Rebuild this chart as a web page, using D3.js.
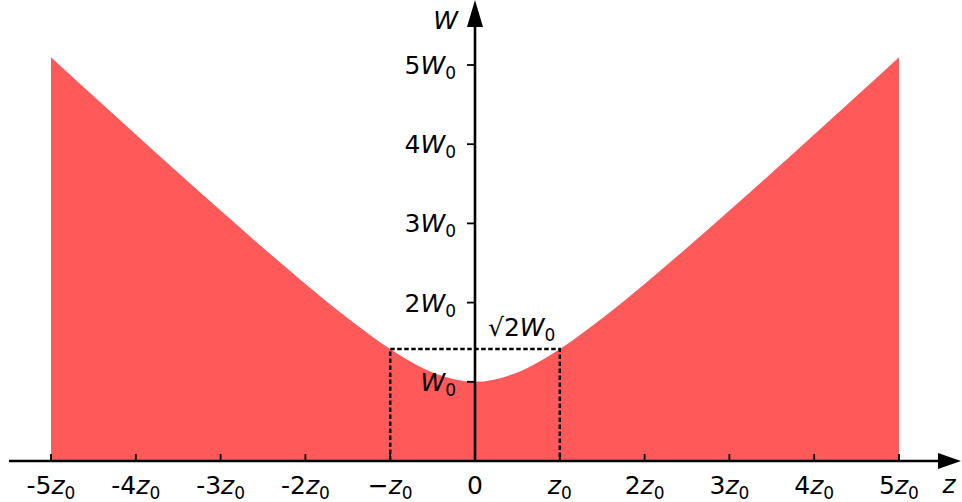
<!DOCTYPE html>
<html>
<head>
<meta charset="utf-8">
<script src="https://cdn.jsdelivr.net/npm/d3@7"></script>
<style>
  body { margin: 0; background: #fff; }
  text { font-family: "DejaVu Sans", sans-serif; fill: #000; }
</style>
</head>
<body>
<div class="chart"></div>
<script>
// beam width W(z), in units of W0, at z in units of z0
const zSamples = [-5, -4.5, -4, -3.5, -3, -2.5, -2, -1.5, -1, -0.5, 0, 0.5, 1, 1.5, 2, 2.5, 3, 3.5, 4, 4.5, 5];
const wSamples = [5.099, 4.610, 4.123, 3.640, 3.162, 2.693, 2.236, 1.803, 1.414, 1.118, 1, 1.118, 1.414, 1.803, 2.236, 2.693, 3.162, 3.640, 4.123, 4.610, 5.099];

const xTicks = [-5, -4, -3, -2, -1, 0, 1, 2, 3, 4, 5];
const xTickPre = ['-5', '-4', '-3', '-2', '\u2212', '0', '', '2', '3', '4', '5'];
const yTicks = [1, 2, 3, 4, 5];
const yTickPre = ['', '2', '3', '4', '5'];
const rayleighW = 1.414; // sqrt(2) W0 at z = +-z0

const width = 962, height = 502;
const fs = 25, subFs = 17, subDy = 5;

const svg = d3.select('.chart')
  .append('svg')
  .attr('width', width)
  .attr('height', height);

const x = d3.scaleLinear().domain([-5, 5]).range([51, 899]);
const y = d3.scaleLinear().domain([0, 5]).range([461, 65]);

const pts = zSamples.map((z, i) => [z, wSamples[i]]);

// filled beam envelope
const area = d3.area()
  .x(d => x(d[0]))
  .y0(y(0))
  .y1(d => y(d[1]))
  .curve(d3.curveMonotoneX);

svg.append('path')
  .datum(pts)
  .attr('d', area)
  .attr('fill', '#ff5959');

// dashed Rayleigh-range box
const dash = d3.line().x(d => x(d[0])).y(d => y(d[1]));
svg.append('path')
  .datum([[-1, 0], [-1, rayleighW], [1, rayleighW], [1, 0]])
  .attr('d', dash)
  .attr('fill', 'none')
  .attr('stroke', '#000')
  .attr('stroke-width', 2.5)
  .attr('stroke-dasharray', '4.5,2.5');

// axes lines
svg.append('line')
  .attr('x1', 9).attr('x2', 945)
  .attr('y1', y(0)).attr('y2', y(0))
  .attr('stroke', '#000').attr('stroke-width', 2.6);
svg.append('path')
  .attr('d', `M961,${y(0)} L938,${y(0) - 8} L938,${y(0) + 8} Z`)
  .attr('fill', '#000');

svg.append('line')
  .attr('x1', x(0)).attr('x2', x(0))
  .attr('y1', y(0)).attr('y2', 20)
  .attr('stroke', '#000').attr('stroke-width', 2.6);
svg.append('path')
  .attr('d', `M${x(0)},0 L${x(0) - 8},27 L${x(0) + 8},27 Z`)
  .attr('fill', '#000');

// x ticks
svg.selectAll('.xtick')
  .data(xTicks)
  .enter().append('line')
  .attr('class', 'xtick')
  .attr('x1', d => x(d)).attr('x2', d => x(d))
  .attr('y1', y(0)).attr('y2', y(0) - 7)
  .attr('stroke', '#000').attr('stroke-width', 1.8);

const xl = svg.selectAll('.xlabel')
  .data(xTicks)
  .enter().append('text')
  .attr('class', 'xlabel')
  .attr('x', d => x(d))
  .attr('y', 494)
  .attr('text-anchor', 'middle')
  .style('font-size', fs + 'px');

xl.each(function (d, i) {
  const t = d3.select(this);
  if (d === 0) { t.text('0'); return; }
  if (xTickPre[i]) t.append('tspan').text(xTickPre[i]);
  t.append('tspan').style('font-style', 'italic').text('z');
  t.append('tspan').attr('dy', subDy).style('font-size', subFs + 'px').text('0');
});

// y ticks
svg.selectAll('.ytick')
  .data(yTicks)
  .enter().append('line')
  .attr('class', 'ytick')
  .attr('x1', x(0) - 8).attr('x2', x(0))
  .attr('y1', d => y(d)).attr('y2', d => y(d))
  .attr('stroke', '#000').attr('stroke-width', 1.8);

const yl = svg.selectAll('.ylabel')
  .data(yTicks)
  .enter().append('text')
  .attr('class', 'ylabel')
  .attr('x', 456)
  .attr('y', d => y(d) + 9)
  .attr('text-anchor', 'end')
  .style('font-size', fs + 'px');

yl.each(function (d, i) {
  const t = d3.select(this);
  if (yTickPre[i]) t.append('tspan').text(yTickPre[i]);
  t.append('tspan').style('font-style', 'italic').text('W');
  t.append('tspan').attr('dy', subDy).style('font-size', subFs + 'px').text('0');
});

// sqrt(2) W0 annotation
const ann = svg.append('text')
  .attr('x', 488)
  .attr('y', 336)
  .style('font-size', fs + 'px');
ann.append('tspan').text('\u221A2');
ann.append('tspan').style('font-style', 'italic').text('W');
ann.append('tspan').attr('dy', subDy).style('font-size', subFs + 'px').text('0');

// axis names
svg.append('text')
  .attr('x', 458).attr('y', 29)
  .attr('text-anchor', 'end')
  .style('font-size', fs + 'px')
  .style('font-style', 'italic')
  .text('W');
svg.append('text')
  .attr('x', 949).attr('y', 493)
  .attr('text-anchor', 'middle')
  .style('font-size', fs + 'px')
  .style('font-style', 'italic')
  .text('z');
</script>
</body>
</html>
